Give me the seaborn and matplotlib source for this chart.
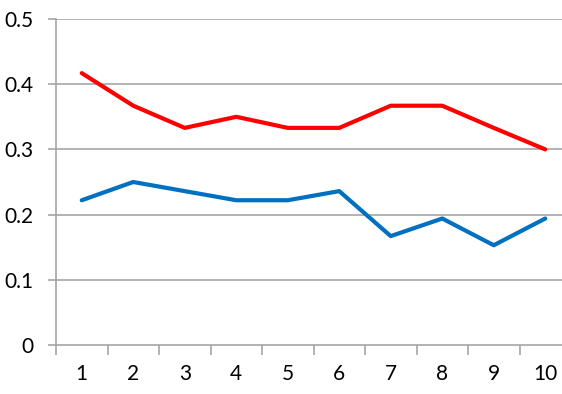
import numpy as np
import pandas as pd
import matplotlib
matplotlib.use("Agg")
import matplotlib.pyplot as plt
import seaborn as sns

categories = [1, 2, 3, 4, 5, 6, 7, 8, 9, 10]
red_values = [0.417, 0.367, 0.333, 0.350, 0.333, 0.333, 0.367, 0.367, 0.333, 0.300]
blue_values = [0.222, 0.250, 0.236, 0.222, 0.222, 0.236, 0.167, 0.194, 0.153, 0.194]
y_ticks = [0, 0.1, 0.2, 0.3, 0.4, 0.5]
y_labels = ["0", "0.1", "0.2", "0.3", "0.4", "0.5"]

df = pd.DataFrame({
    "x": categories * 2,
    "y": red_values + blue_values,
    "series": ["red"] * len(categories) + ["blue"] * len(categories),
})

sns.set_theme(style="white")
plt.rcParams["font.family"] = ["Lato", "DejaVu Sans"]

fig = plt.figure(figsize=(5.62, 3.94), dpi=100)
ax = fig.add_axes([56 / 562, 1 - 345 / 394, 515 / 562, 326 / 394])

grid_color = "#A6A6A6"
for yt in y_ticks[1:]:
    ax.axhline(yt, color=grid_color, lw=1.2, zorder=0)

sns.lineplot(data=df, x="x", y="y", hue="series",
             palette={"red": "#FF0000", "blue": "#0070C0"},
             linewidth=3.0, legend=False, ax=ax, clip_on=False)

ax.set_xlim(0.5, 10.5)
ax.set_ylim(0, 0.5)
ax.set_xlabel("")
ax.set_ylabel("")

ax.set_yticks(y_ticks)
ax.set_yticklabels(y_labels)
ax.set_xticks(categories)
ax.set_xticklabels([str(c) for c in categories])
ax.set_xticks(np.arange(0.5, 11, 1), minor=True)

ax.tick_params(axis="y", which="major", length=6, width=1.2, color=grid_color,
               direction="out", pad=10, labelsize=15, labelcolor="black", left=True)
ax.tick_params(axis="x", which="major", length=0, pad=14, labelsize=15, labelcolor="black")
ax.tick_params(axis="x", which="minor", length=7, width=1.2, color=grid_color,
               direction="out", bottom=True)

for side in ["top", "right"]:
    ax.spines[side].set_visible(False)
for side in ["left", "bottom"]:
    ax.spines[side].set_color(grid_color)
    ax.spines[side].set_linewidth(1.2)

fig.savefig("out.png", dpi=100)
